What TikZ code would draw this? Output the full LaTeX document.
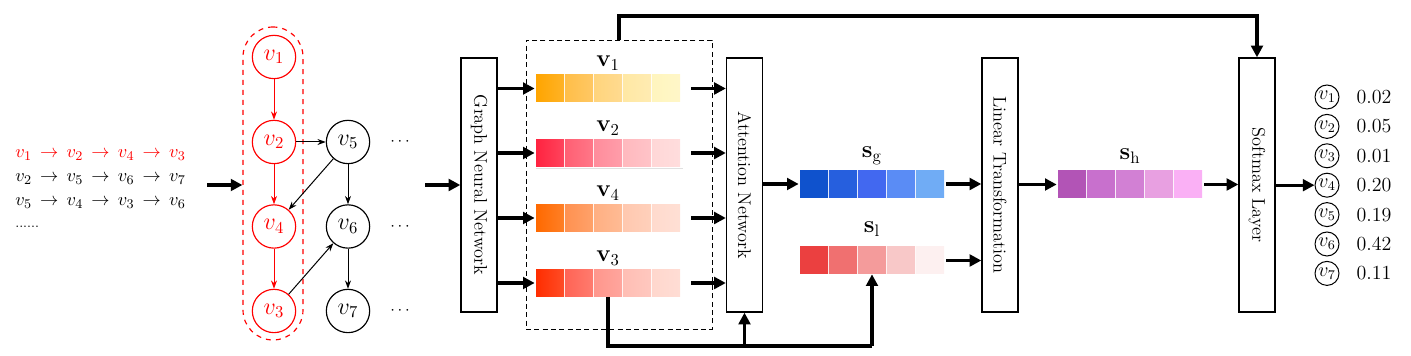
\documentclass[tikz,border=0pt]{standalone}
\usetikzlibrary{arrows.meta,calc}
\definecolor{va1}{HTML}{FFA500}\definecolor{va2}{HTML}{FFBE48}\definecolor{va3}{HTML}{FFD47C}\definecolor{va4}{HTML}{FFE8A4}\definecolor{va5}{HTML}{FFF5BE}
\definecolor{vb1}{HTML}{FF2340}\definecolor{vb2}{HTML}{FF5F73}\definecolor{vb3}{HTML}{FF8C9B}\definecolor{vb4}{HTML}{FFB9BE}\definecolor{vb5}{HTML}{FFD7D7}
\definecolor{vd1}{HTML}{FF6900}\definecolor{vd2}{HTML}{FF9150}\definecolor{vd3}{HTML}{FFAF82}\definecolor{vd4}{HTML}{FFC8AF}\definecolor{vd5}{HTML}{FFDACD}
\definecolor{vc1}{HTML}{FF2D00}\definecolor{vc2}{HTML}{FF6455}\definecolor{vc3}{HTML}{FF968C}\definecolor{vc4}{HTML}{FFBEB4}\definecolor{vc5}{HTML}{FFD7CD}
\definecolor{sg1}{HTML}{0F52CD}\definecolor{sg2}{HTML}{265FDE}\definecolor{sg3}{HTML}{4268F0}\definecolor{sg4}{HTML}{5A8CF5}\definecolor{sg5}{HTML}{70ACF5}
\definecolor{sl1}{HTML}{EB4040}\definecolor{sl2}{HTML}{F07070}\definecolor{sl3}{HTML}{F49B9B}\definecolor{sl4}{HTML}{F8C8C8}\definecolor{sl5}{HTML}{FDF0F0}
\definecolor{sh1}{HTML}{B254B6}\definecolor{sh2}{HTML}{C870CD}\definecolor{sh3}{HTML}{D280D4}\definecolor{sh4}{HTML}{E8A0E1}\definecolor{sh5}{HTML}{FAB0F5}
\newcommand\cellrow[4]{%
  \foreach \c [count=\i from 0] in {#3} {
    \shade[left color=\c, right color=\c!#4!white] ({#1+29*\i},{#2-13.5}) rectangle ++(28,27);
  }}
\begin{document}
\begin{tikzpicture}[x=0.6pt,y=-0.6pt,
  box/.style={draw, line width=0.8pt, minimum width=21.6pt, minimum height=152.4pt, inner sep=0},
  fat/.style={line width=1.9pt, -{Triangle[length=7pt,width=7pt]}},
  fatline/.style={line width=1.9pt},
  gnode/.style={circle, draw, line width=0.7pt, minimum size=26pt, inner sep=0, font=\Large},
  rnode/.style={gnode, red},
  garrow/.style={line width=0.6pt, -{Stealth[length=5pt,width=3.6pt]}},
  onode/.style={circle, draw, line width=0.6pt, minimum size=14.4pt, inner sep=0, font=\large},
  vecnode/.style={minimum width=86.4pt, minimum height=16.2pt, inner sep=0},
  vlabel/.style={font=\Large, inner sep=0},
  seq/.style={anchor=west, inner sep=0, font=\fontsize{11}{13}\selectfont},
  boxtext/.style={rotate=-90, font=\fontsize{11}{13}\selectfont},
  dots/.style={font=\normalsize}
]
\useasboundingbox (0,0) rectangle (1411,356);

% sequences
\node[seq, red] (l1) at (15,155) {$v_1 \,\rightarrow\, v_2 \,\rightarrow\, v_4 \,\rightarrow\, v_3$};
\node[seq] (l2) at (15,179) {$v_2 \,\rightarrow\, v_5 \,\rightarrow\, v_6 \,\rightarrow\, v_7$};
\node[seq] (l3) at (15,203) {$v_5 \,\rightarrow\, v_4 \,\rightarrow\, v_3 \,\rightarrow\, v_6$};
\node[seq, font=\footnotesize] (l4) at (15,227) {......};

% graph
\node[draw=red, dashed, rounded corners=18pt, minimum width=36pt, minimum height=187.8pt, line width=0.7pt] (walk) at (273,183.5) {};
\coordinate (a0) at (207,185);
\draw[fat] (a0) -- (walk.west |- a0);

\node[rnode] (g1) at (274,57) {$v_1$};
\node[rnode] (g2) at (274,142) {$v_2$};
\node[rnode] (g4) at (274,226.5) {$v_4$};
\node[rnode] (g3) at (274,311) {$v_3$};
\node[gnode] (g5) at (348,142) {$v_5$};
\node[gnode] (g6) at (348,226.5) {$v_6$};
\node[gnode] (g7) at (348,311) {$v_7$};
\node[dots] (d5) at (400,142) {$\cdots$};
\node[dots] (d6) at (400,226.5) {$\cdots$};
\node[dots] (d7) at (400,311) {$\cdots$};
\draw[garrow, red] (g1) -- (g2);
\draw[garrow, red] (g2) -- (g4);
\draw[garrow, red] (g4) -- (g3);
\draw[garrow] (g2) -- (g5);
\draw[garrow] (g5) -- (g4);
\draw[garrow] (g5) -- (g6);
\draw[garrow] (g3) -- (g6);
\draw[garrow] (g6) -- (g7);

% GNN
\coordinate (a1) at (425,185);
\node[box] (gnn) at (479,185) {};
\node[boxtext] at (gnn) {Graph Neural Network};
\draw[fat] (a1) -- (gnn.west |- a1);

% dashed embeddings box
\node[draw, line width=0.5pt, dash pattern=on 3pt off 2pt, minimum width=111.6pt, minimum height=173.4pt, inner sep=0] (dbox) at (619,184.5) {};

\node[vecnode] (v1vec) at (608,88.5) {};
\node[vecnode] (v2vec) at (608,153) {};
\node[vecnode] (v4vec) at (608,218) {};
\node[vecnode] (v3vec) at (608,283) {};
\draw[black!12, line width=0.8pt] ([yshift=-0.9pt]v2vec.south west) -- ([yshift=-0.9pt,xshift=1.5pt]v2vec.south east);
\cellrow{536}{88.5}{va1,va2,va3,va4,va5}{85}
\cellrow{536}{153}{vb1,vb2,vb3,vb4,vb5}{85}
\cellrow{536}{218}{vd1,vd2,vd3,vd4,vd5}{85}
\cellrow{536}{283}{vc1,vc2,vc3,vc4,vc5}{85}
\node[vlabel] (lv1) at (608,63) {$\mathbf{v}_1$};
\node[vlabel] (lv2) at (608,128) {$\mathbf{v}_2$};
\node[vlabel] (lv4) at (608,193) {$\mathbf{v}_4$};
\node[vlabel] (lv3) at (608,258) {$\mathbf{v}_3$};

% Attention
\node[box] (att) at (744.5,185) {};
\node[boxtext] at (att) {Attention Network};
\foreach \v in {v1vec,v2vec,v4vec,v3vec} {
  \draw[fat] (gnn.east |- \v.west) -- ([xshift=-0.6pt]\v.west);
  \draw[fat] ([xshift=6.6pt]\v.east) -- (att.west |- \v.east);
}

% s_g, s_l
\node[vecnode] (sg) at (872,184) {};
\node[vecnode] (sl) at (872,260.5) {};
\cellrow{800}{184}{sg1,sg2,sg3,sg4,sg5}{100}
\cellrow{800}{260.5}{sl1,sl2,sl3,sl4,sl5}{100}
\node[vlabel] (lsg) at (872,156) {$\mathbf{s}_{\mathrm{g}}$};
\node[vlabel] (lsl) at (872,229) {$\mathbf{s}_{\mathrm{l}}$};
\draw[fat] (att.east |- sg.west) -- ([xshift=-0.6pt]sg.west);

% Linear
\node[box] (lin) at (1000,185) {};
\node[boxtext] at (lin) {Linear Transformation};
\draw[fat] ([xshift=1.2pt]sg.east) -- (lin.west |- sg.east);
\draw[fat] ([xshift=1.2pt]sl.east) -- (lin.west |- sl.east);

% s_h
\node[vecnode] (sh) at (1130,184.5) {};
\cellrow{1058}{184.5}{sh1,sh2,sh3,sh4,sh5}{100}
\node[vlabel] (lsh) at (1130,156) {$\mathbf{s}_{\mathrm{h}}$};
\draw[fat] (lin.east |- sh.west) -- ([xshift=-0.6pt]sh.west);

% Softmax
\node[box] (soft) at (1257,185) {};
\node[boxtext] at (soft) {Softmax Layer};
\draw[fat] ([xshift=1.2pt]sh.east) -- (soft.west |- sh.east);

% top and bottom connectors
\coordinate (tl) at (619,16);
\draw[fat] (dbox.north) -- (dbox.north |- tl) -| (soft.north);
\coordinate (bl) at (608,346);
\draw[fatline] (v3vec.south) -- (bl) -- (sl.south |- bl);
\draw[fat] (sl.south |- bl) -- (sl.south);
\draw[fat] (att.south |- bl) -- (att.south);

% outputs
\foreach \k/\val [count=\i from 0] in {1/0.02,2/0.05,3/0.01,4/0.20,5/0.19,6/0.42,7/0.11} {
  \node[onode] (o\k) at (1327,{97+29.4*\i}) {$v_{\k}$};
  \node[font=\large] (p\k) at (1374,{97+29.4*\i}) {\val};
}
\draw[fat] (soft.east |- o4) -- (o4.west);
\end{tikzpicture}
\end{document}
